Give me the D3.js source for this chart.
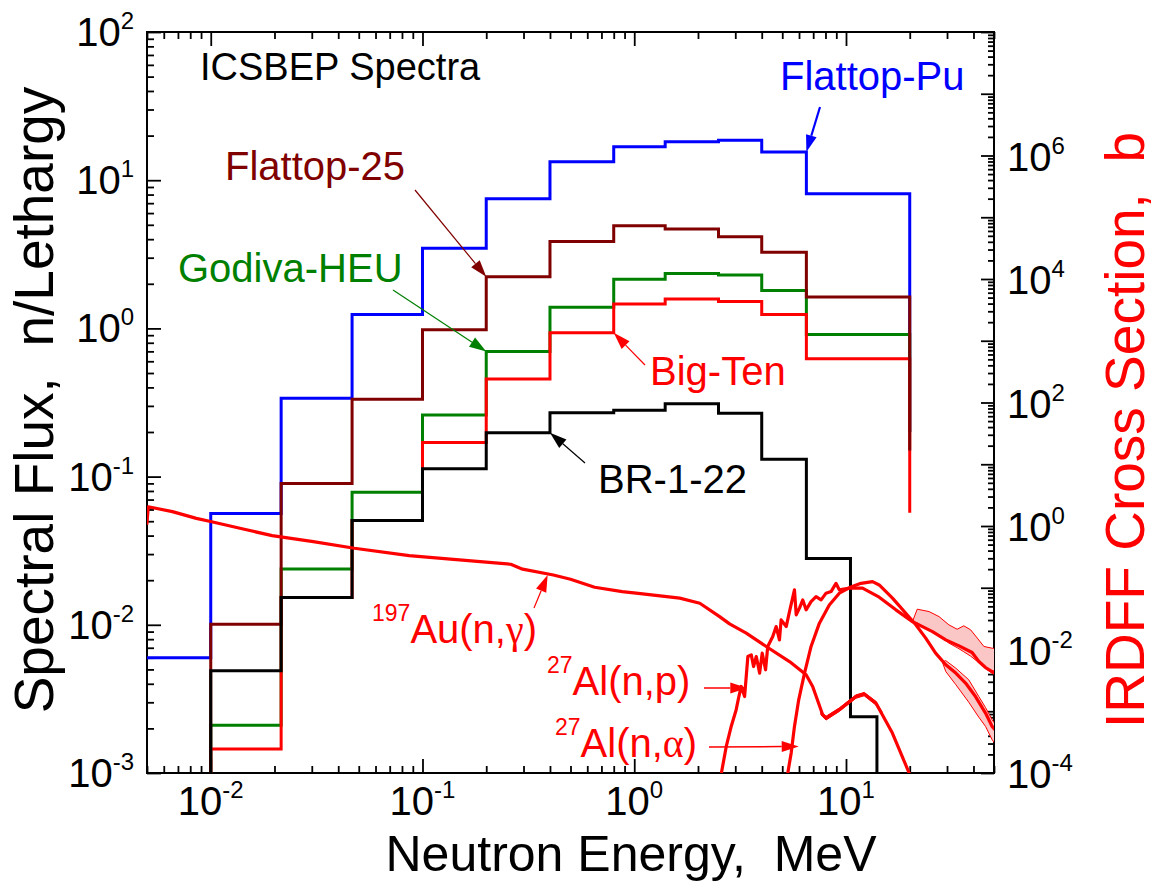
<!DOCTYPE html>
<html>
<head>
<meta charset="utf-8">
<script src="https://cdn.jsdelivr.net/npm/d3@7"></script>
<style>
  body { margin: 0; background: #fff; }
  text { font-family: "Liberation Sans", Arial, sans-serif; }
</style>
</head>
<body>
<div class="canvas"></div>
<script>
// group boundaries, MeV (shared by the four big spectra)
const edges = [0.01, 0.0215, 0.0465, 0.1, 0.2, 0.4, 0.8, 1.4, 2.5, 4.0, 6.5, 20];
const puEdges = [0.005, 0.01, 0.0215, 0.0465, 0.1, 0.2, 0.4, 0.8, 1.4, 2.5, 4.0, 6.5, 20];
const brEdges = [0.01, 0.0215, 0.0465, 0.1, 0.2, 0.4, 0.8, 1.4, 2.5, 4.0, 6.5, 10.5, 14];

// spectral flux, n/lethargy
const flattopPu = [0.006, 0.0564, 0.338, 1.24, 3.48, 7.5, 13.3, 16.8, 18.2, 18.6, 15.5, 8.1];
const flattop25 = [0.0101, 0.0897, 0.332, 0.98, 2.23, 3.86, 4.92, 4.68, 4.15, 3.27, 1.63];
const godivaHEU = [0.0021, 0.0238, 0.0785, 0.26, 0.698, 1.39, 2.15, 2.35, 2.29, 1.80, 0.908];
const bigTen = [0.00145, 0.0153, 0.0505, 0.17, 0.455, 0.933, 1.46, 1.58, 1.52, 1.24, 0.624];
const br122 = [0.0049, 0.0153, 0.0505, 0.113, 0.198, 0.27, 0.28, 0.31, 0.268, 0.131, 0.028, 0.0024];

// value where each step line stops at its last edge
const spectraEnd = { pu: 0.2, f25: 0.15, heu: 0.2, big: 0.057, br: 0.0001 };

// IRDFF cross sections, barns
const auE = [0.00499, 0.00507, 0.00659, 0.00855, 0.0101, 0.0144, 0.0195, 0.0305, 0.0477, 0.0865, 0.1355, 0.261, 0.297, 0.415, 0.50, 0.65, 0.877, 1.02, 1.64, 2.04, 2.53, 2.82, 3.38, 4.2, 5.41, 6.48, 6.96, 7.76, 8.05, 9.29, 11.14, 12.19, 13.84, 16.56, 19.87, 21.5];
const auXS = [1.05, 2.05, 1.71, 1.33, 1.17, 0.885, 0.697, 0.557, 0.436, 0.331, 0.290, 0.240, 0.200, 0.161, 0.137, 0.102, 0.0867, 0.0817, 0.0678, 0.0562, 0.0341, 0.026, 0.0184, 0.0112, 0.00638, 0.00389, 0.00252, 0.000877, 0.000776, 0.00106, 0.00173, 0.0019, 0.00136, 0.000444, 0.0001, 0.00005];
const auBandE = [7.6, 8.05, 9.29, 11.14, 12.19, 13.84, 14.8];
const auBandHi = [0.00098, 0.00083, 0.00113, 0.00184, 0.00202, 0.00145, 0.00098];
const auBandLo = [0.00088, 0.00072, 0.00099, 0.00162, 0.00178, 0.00126, 0.00086];

const alpE = [2.5, 2.58, 2.72, 2.87, 3.03, 3.12, 3.20, 3.32, 3.38, 3.44, 3.57, 3.66, 3.77, 3.91, 4.02, 4.17, 4.27, 4.51, 4.68, 4.85, 4.94, 5.22, 5.41, 5.71, 5.82, 6.03, 6.25, 6.48, 6.84, 7.22, 7.63, 8.05, 8.5, 8.97, 9.3, 10.4, 11.97, 14.35, 17.2, 20.6, 25.6, 29.6, 34.2, 39.4, 42.4, 45.6, 49, 52];
const alpXS = [5e-5, 1e-4, 2.69e-4, 5.68e-4, 1.06e-3, 1.73e-3, 2.52e-3, 1.73e-3, 3.66e-3, 7.69e-3, 8.2e-3, 5.3e-3, 7.69e-3, 4.15e-3, 8.73e-3, 4.69e-3, 0.0112, 0.0162, 0.0235, 0.0143, 0.0302, 0.0235, 0.0411, 0.0923, 0.0364, 0.0467, 0.0635, 0.0439, 0.0597, 0.0719, 0.0635, 0.0817, 0.0867, 0.118, 0.0923, 0.0985, 0.0985, 0.0703, 0.0439, 0.0283, 0.0195, 0.0143, 0.01146, 0.00893, 0.00638, 0.0051, 0.0044, 0.004];
const alpBandE = [20.6, 21.7, 24.7, 27.5, 30.6, 33.5, 36.0, 38.8, 41.7, 44.8, 49.0, 52];
const alpBandHi = [0.0283, 0.045, 0.0411, 0.0341, 0.0251, 0.0213, 0.0242, 0.0208, 0.0153, 0.0112, 0.0105, 0.0103];
const alpBandLo = [0.0283, 0.027, 0.0205, 0.0165, 0.0127, 0.0107, 0.0092, 0.0078, 0.0064, 0.0052, 0.0041, 0.0038];

const alaE = [5.2, 5.31, 5.51, 5.71, 5.98, 6.37, 6.84, 7.49, 8.34, 9.3, 10.4, 11.77, 13.35, 14.35, 16.58, 19.16, 21.36, 23.8, 26.5, 29.6, 33.0, 36.7, 40.9, 45.6, 49.0, 52];
const alaXS = [5e-5, 1e-4, 2.11e-4, 5.68e-4, 1.53e-3, 4.15e-3, 0.0112, 0.0267, 0.0527, 0.0817, 0.1005, 0.118, 0.1256, 0.111, 0.0678, 0.0387, 0.0251, 0.0153, 8.73e-3, 5.65e-3, 4.15e-3, 2.86e-3, 1.73e-3, 9.35e-4, 5.68e-4, 4.5e-4];
const alaBandE = [28.5, 29.6, 33.0, 38.0, 42.4, 45.6, 49.0, 52];
const alaBandHi = [6.3e-3, 6.6e-3, 4.99e-3, 3.23e-3, 1.73e-3, 1.15e-3, 7.28e-4, 5.5e-4];
const alaBandLo = [6.3e-3, 4.4e-3, 2.7e-3, 1.4e-3, 8e-4, 5.68e-4, 3.46e-4, 2.6e-4];

// tick labels (powers of ten)
const xLabelExp = [-2, -1, 0, 1];
const leftLabelExp = [-3, -2, -1, 0, 1, 2];
const rightLabelExp = [-4, -2, 0, 2, 4, 6];

const dims = { width: 1155, height: 888 };
const plot = { left: 147, right: 994, top: 32, bottom: 773 };
const colors = { pu: '#0000ff', f25: '#800000', heu: '#008000', big: '#ff0000', br: '#000000', xs: '#ff0000' };

const svg = d3.select('.canvas')
    .append('svg')
    .attr('width', dims.width)
    .attr('height', dims.height);

const x = d3.scaleLog().domain([0.005, 50]).range([plot.left, plot.right]);
const yL = d3.scaleLog().domain([1e-3, 1e2]).range([plot.bottom, plot.top]);
const yR = d3.scaleLog().domain([1e-4, 1e8]).range([plot.bottom, plot.top]);

svg.append('clipPath').attr('id', 'clip')
  .append('rect')
    .attr('x', plot.left).attr('y', plot.top)
    .attr('width', plot.right - plot.left).attr('height', plot.bottom - plot.top);

// decade and minor tick positions for a log domain
const logTicks = (lo, hi) => {
    const major = [], minor = [];
    for (let p = Math.floor(Math.log10(lo)); p <= Math.ceil(Math.log10(hi)); p++) {
        for (let k = 1; k < 10; k++) {
            const v = k * Math.pow(10, p);
            if (v < lo * 0.999 || v > hi * 1.001) continue;
            (k === 1 ? major : minor).push(v);
        }
    }
    return { major, minor };
};

const addAxis = (axisFn, scale, vals, size, transform) => {
    svg.append('g')
        .attr('transform', transform)
        .call(axisFn(scale).tickValues(vals).tickSize(size).tickFormat(''))
        .call(g => g.select('.domain').remove())
        .selectAll('line').attr('stroke', '#000').attr('stroke-width', 1.8);
};

const xt = logTicks(0.005, 50), ylt = logTicks(1e-3, 1e2), yrt = logTicks(1e-4, 1e8);
addAxis(d3.axisBottom, x, xt.major, -14, `translate(0,${plot.bottom})`);
addAxis(d3.axisBottom, x, xt.minor, -7, `translate(0,${plot.bottom})`);
addAxis(d3.axisTop, x, xt.major, -14, `translate(0,${plot.top})`);
addAxis(d3.axisTop, x, xt.minor, -7, `translate(0,${plot.top})`);
addAxis(d3.axisLeft, yL, ylt.major, -14, `translate(${plot.left},0)`);
addAxis(d3.axisLeft, yL, ylt.minor, -7, `translate(${plot.left},0)`);
addAxis(d3.axisRight, yR, yrt.major, -13, `translate(${plot.right},0)`);
addAxis(d3.axisRight, yR, yrt.minor, -6, `translate(${plot.right},0)`);

svg.append('rect')
    .attr('x', plot.left).attr('y', plot.top)
    .attr('width', plot.right - plot.left).attr('height', plot.bottom - plot.top)
    .attr('fill', 'none').attr('stroke', '#000').attr('stroke-width', 2);

// 10^n labels
const powLabel = (exp, px, py, anchor) => {
    const t = svg.append('text')
        .attr('x', px).attr('y', py)
        .attr('text-anchor', anchor)
        .attr('font-size', 40);
    t.append('tspan').text('10');
    t.append('tspan').attr('font-size', 24).attr('dy', -17).text(exp);
};
xLabelExp.forEach(e => powLabel(e, x(Math.pow(10, e)), 815, 'middle'));
leftLabelExp.forEach(e => powLabel(e, 134, yL(Math.pow(10, e)) + 14, 'end'));
rightLabelExp.forEach(e => powLabel(e, 1007, yR(Math.pow(10, e)) + 15, 'start'));

// axis titles
svg.append('text')
    .attr('x', 631).attr('y', 871)
    .attr('text-anchor', 'middle').attr('font-size', 50)
    .attr('xml:space', 'preserve')
    .text('Neutron Energy,  MeV');

svg.append('text')
    .attr('transform', 'translate(53,400) rotate(-90)')
    .attr('text-anchor', 'middle').attr('font-size', 55)
    .attr('xml:space', 'preserve')
    .text('Spectral Flux,  n/Lethargy');

svg.append('text')
    .attr('transform', 'translate(1144,430) rotate(-90)')
    .attr('text-anchor', 'middle').attr('font-size', 55)
    .attr('fill', colors.xs)
    .attr('xml:space', 'preserve')
    .text('IRDFF Cross Section,  b');

const graph = svg.append('g').attr('clip-path', 'url(#clip)');

// step outline of a group spectrum
const steps = (e, v, start, end) => {
    const pts = [[e[0], start]];
    v.forEach((val, i) => pts.push([e[i], val], [e[i + 1], val]));
    pts.push([e[e.length - 1], end]);
    return pts;
};
const lineL = d3.line().x(d => x(d[0])).y(d => yL(d[1]));
const lineR = d3.line().x(d => x(d[0])).y(d => yR(d[1]));

const spectra = [
    { key: 'pu', e: puEdges, v: flattopPu, start: flattopPu[0] },
    { key: 'heu', e: edges, v: godivaHEU, start: 1e-4 },
    { key: 'big', e: edges, v: bigTen, start: 1e-4 },
    { key: 'f25', e: edges, v: flattop25, start: 1e-4 },
    { key: 'br', e: brEdges, v: br122, start: 1e-4 }
];

graph.selectAll('path.spec')
    .data(spectra)
    .enter()
    .append('path')
        .attr('class', 'spec')
        .attr('d', d => lineL(steps(d.e, d.v, d.start, spectraEnd[d.key])))
        .attr('fill', 'none')
        .attr('stroke', d => colors[d.key])
        .attr('stroke-width', 3)
        .attr('stroke-linejoin', 'miter');

// uncertainty bands
const bands = [
    { e: auBandE, hi: auBandHi, lo: auBandLo },
    { e: alpBandE, hi: alpBandHi, lo: alpBandLo },
    { e: alaBandE, hi: alaBandHi, lo: alaBandLo }
];
const area = d3.area().x(d => x(d[0])).y0(d => yR(d[1])).y1(d => yR(d[2]));
graph.selectAll('path.band')
    .data(bands)
    .enter()
    .append('path')
        .attr('class', 'band')
        .attr('d', b => area(b.e.map((e, i) => [e, b.lo[i], b.hi[i]])))
        .attr('fill', '#fbc6c6')
        .attr('stroke', colors.xs)
        .attr('stroke-width', 1);

const xsCurves = [
    { e: auE, s: auXS },
    { e: alpE, s: alpXS },
    { e: alaE, s: alaXS }
];
graph.selectAll('path.xs')
    .data(xsCurves)
    .enter()
    .append('path')
        .attr('class', 'xs')
        .attr('d', c => lineR(c.e.map((e, i) => [e, c.s[i]])))
        .attr('fill', 'none')
        .attr('stroke', colors.xs)
        .attr('stroke-width', 3.2)
        .attr('stroke-linejoin', 'round');

// annotations: label position, arrow tail (px) and arrow tip (data)
const notes = [
    { text: 'Flattop-Pu', color: colors.pu, tx: 780, ty: 90, from: [820, 107], tip: [6.5, 15.5], scale: yL, w: 2.2 },
    { text: 'Flattop-25', color: colors.f25, tx: 225, ty: 180, from: [415, 190], tip: [0.2, 2.23], scale: yL, w: 1.2 },
    { text: 'Godiva-HEU', color: colors.heu, tx: 178, ty: 282, from: [393, 290], tip: [0.2, 0.698], scale: yL, w: 1.2 },
    { text: 'Big-Ten', color: colors.big, tx: 650, ty: 385, from: [645, 365], tip: [0.8, 0.933], scale: yL, w: 1.2 },
    { text: 'BR-1-22', color: colors.br, tx: 598, ty: 493, from: [585, 463], tip: [0.4, 0.198], scale: yL, w: 1.2 },
    { sup: '197', text: 'Au(n,', greek: 'γ', color: colors.xs, tx: 372, ty: 643, from: [534, 608], tip: [0.39, 0.161], scale: yR, w: 1.2 },
    { sup: '27', text: 'Al(n,p)', color: colors.xs, tx: 547, ty: 695, from: [704, 688], tip: [3.42, 2.37e-3], scale: yR, w: 1.5 },
    { sup: '27', text: 'Al(n,', greek: 'α', color: colors.xs, tx: 555, ty: 757, from: [709, 747], tip: [5.98, 2.69e-4], scale: yR, w: 1.5 }
];

svg.append('text')
    .attr('x', 200).attr('y', 80)
    .attr('font-size', 38)
    .text('ICSBEP Spectra');

notes.forEach(n => {
    const t = svg.append('text')
        .attr('x', n.tx).attr('y', n.ty)
        .attr('font-size', 40)
        .attr('fill', n.color);
    if (n.sup) {
        t.append('tspan').attr('font-size', 23).attr('dy', -22).text(n.sup);
        t.append('tspan').attr('dy', 22).text(n.text);
    } else {
        t.append('tspan').text(n.text);
    }
    if (n.greek) {
        t.append('tspan').attr('font-family', '"Liberation Serif", serif').text(n.greek);
        t.append('tspan').text(')');
    }

    const tx = x(n.tip[0]), ty = n.scale(n.tip[1]);
    const [fx, fy] = n.from;
    const len = Math.hypot(tx - fx, ty - fy);
    const ux = (tx - fx) / len, uy = (ty - fy) / len;
    const head = 17, half = 5.5;
    const bx = tx - ux * head, by = ty - uy * head;
    svg.append('line')
        .attr('x1', fx).attr('y1', fy).attr('x2', bx).attr('y2', by)
        .attr('stroke', n.color).attr('stroke-width', n.w);
    svg.append('path')
        .attr('d', `M${tx},${ty}L${bx - uy * half},${by + ux * half}L${bx + uy * half},${by - ux * half}Z`)
        .attr('fill', n.color);
});
</script>
</body>
</html>
